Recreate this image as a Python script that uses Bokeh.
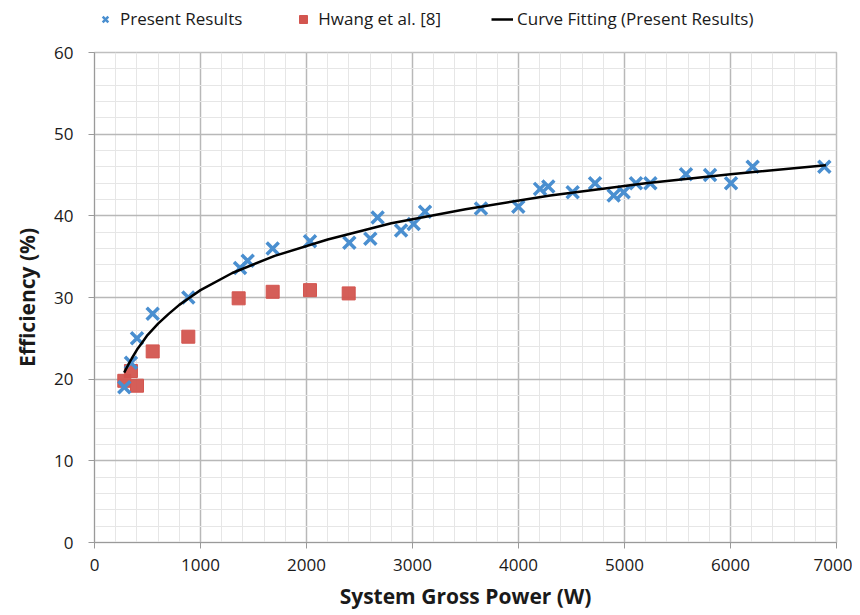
from bokeh.plotting import figure
from bokeh.layouts import column
from bokeh.models import (Range1d, Legend, LegendItem, FixedTicker, ColumnDataSource)
from bokeh.embed import file_html
from bokeh.resources import INLINE

# Present Results (blue crosses)
present_x = [281, 344, 401, 549, 885, 1373, 1445, 1681, 2033, 2404, 2602, 2671,
             2892, 3011, 3118, 3646, 3998, 4203, 4281, 4511, 4722, 4898, 4992,
             5108, 5244, 5580, 5807, 6005, 6209, 6885]
present_y = [19.0, 22.0, 25.0, 28.0, 30.0, 33.6, 34.5, 36.0, 36.9, 36.7, 37.2, 39.8,
             38.2, 39.0, 40.5, 40.9, 41.1, 43.3, 43.6, 42.9, 44.0, 42.5, 42.9,
             44.0, 44.0, 45.1, 45.0, 44.0, 46.0, 46.0]

# Hwang et al. [8] (red squares)
hwang_x = [281, 344, 401, 549, 885, 1360, 1681, 2033, 2398]
hwang_y = [19.8, 21.0, 19.2, 23.4, 25.2, 29.9, 30.7, 30.9, 30.5]

# Curve Fitting (Present Results)
curve_x = [280, 320, 350, 400, 450, 500, 600, 700, 800, 900, 1000, 1300, 1700,
           2200, 2800, 3500, 4300, 5200, 6000, 6900]
curve_y = [20.8, 21.8, 22.5, 23.6, 24.5, 25.4, 26.8, 28.0, 29.1, 30.0, 30.9, 33.0,
           35.1, 37.1, 39.1, 40.8, 42.5, 44.0, 45.1, 46.2]

series_labels = ["Present Results", "Hwang et al. [8]", "Curve Fitting (Present Results)"]

x_ticks = [0, 1000, 2000, 3000, 4000, 5000, 6000, 7000]
y_ticks = [0, 10, 20, 30, 40, 50, 60]

FONT = "Open Sans"
BLUE = "#4a8fd0"
RED = "#d3554f"

src_p = ColumnDataSource(dict(x=present_x, y=present_y))
src_h = ColumnDataSource(dict(x=hwang_x, y=hwang_y))
src_c = ColumnDataSource(dict(x=curve_x, y=curve_y))

# ---------------- main chart ----------------
p = figure(width=852, height=569, output_backend="svg", toolbar_location=None,
           x_range=Range1d(0, 7000), y_range=Range1d(0, 60),
           frame_width=742, frame_height=490, title_location=None,
           min_border_left=94, min_border_right=16, min_border_top=14,
           min_border_bottom=65)

p.outline_line_color = "#bfbfbf"
p.outline_line_width = 1.5
p.background_fill_color = "white"
p.border_fill_color = "white"

p.xgrid.ticker = FixedTicker(ticks=x_ticks, minor_ticks=list(range(0, 7001, 200)))
p.ygrid.ticker = FixedTicker(ticks=y_ticks, minor_ticks=list(range(0, 61, 2)))
p.xgrid.grid_line_color = "#b8b8b8"
p.ygrid.grid_line_color = "#b8b8b8"
p.xgrid.grid_line_width = 1.5
p.ygrid.grid_line_width = 1.5
p.xgrid.minor_grid_line_color = "#e6e6e6"
p.ygrid.minor_grid_line_color = "#e6e6e6"

for ax, ticks in ((p.xaxis[0], x_ticks), (p.yaxis[0], y_ticks)):
    ax.ticker = FixedTicker(ticks=ticks)
    ax.axis_line_color = "#9a9a9a"
    ax.major_tick_line_color = "#9a9a9a"
    ax.major_tick_in = 0
    ax.major_tick_out = 6
    ax.minor_tick_line_color = None
    ax.major_label_text_font = FONT
    ax.major_label_text_font_size = "17px"
    ax.major_label_text_color = "#1a1a1a"
    ax.axis_label_text_font = FONT
    ax.axis_label_text_font_style = "bold"
    ax.axis_label_text_font_size = "21px"
    ax.axis_label_text_color = "#1a1a1a"

p.xaxis.axis_label = "System Gross Power (W)"
p.yaxis.axis_label = "Efficiency (%)"
p.xaxis.major_label_standoff = 10
p.yaxis.major_label_standoff = 15
p.xaxis.axis_label_standoff = 8
p.yaxis.axis_label_standoff = 10

p.scatter("x", "y", source=src_h, marker="square", size=13,
          fill_color=RED, line_color=RED, fill_alpha=0.95)
p.scatter("x", "y", source=src_p, marker="x", size=17,
          line_color=BLUE, line_width=3.5)
p.line("x", "y", source=src_c, line_color="black", line_width=2.5)

# ---------------- legend strip ----------------
# (ranges chosen so the series themselves stay outside this strip's frame)
lg = figure(width=852, height=38, output_backend="svg", toolbar_location=None,
            x_range=Range1d(0, 1), y_range=Range1d(0, 1),
            frame_width=742, frame_height=38,
            x_axis_location=None, y_axis_location=None, title_location=None,
            min_border_left=94, min_border_right=16, min_border_top=0,
            min_border_bottom=0)
lg.grid.visible = False
lg.outline_line_color = None
lg.background_fill_color = "white"
lg.border_fill_color = "white"

l_p = lg.scatter("x", "y", source=src_p, marker="x", line_color=BLUE, line_width=2.5)
l_h = lg.scatter("x", "y", source=src_h, marker="square", fill_color=RED, line_color=RED)
l_c = lg.line("x", "y", source=src_c, line_color="black", line_width=2.5)

legend = Legend(items=[
    LegendItem(label=series_labels[0], renderers=[l_p]),
    LegendItem(label=series_labels[1], renderers=[l_h]),
    LegendItem(label=series_labels[2], renderers=[l_c]),
], orientation="horizontal", location=(0, 8))
legend.label_text_font = FONT
legend.label_text_font_size = "17px"
legend.label_text_color = "#1a1a1a"
legend.border_line_color = None
legend.background_fill_alpha = 0
legend.spacing = 50
legend.glyph_width = 22
legend.glyph_height = 20
legend.label_height = 20
legend.label_standoff = 4
legend.padding = 0
legend.margin = 0
lg.add_layout(legend, "center")

layout = column(lg, p, spacing=0)
open("out.html", "w").write(file_html(layout, INLINE))
